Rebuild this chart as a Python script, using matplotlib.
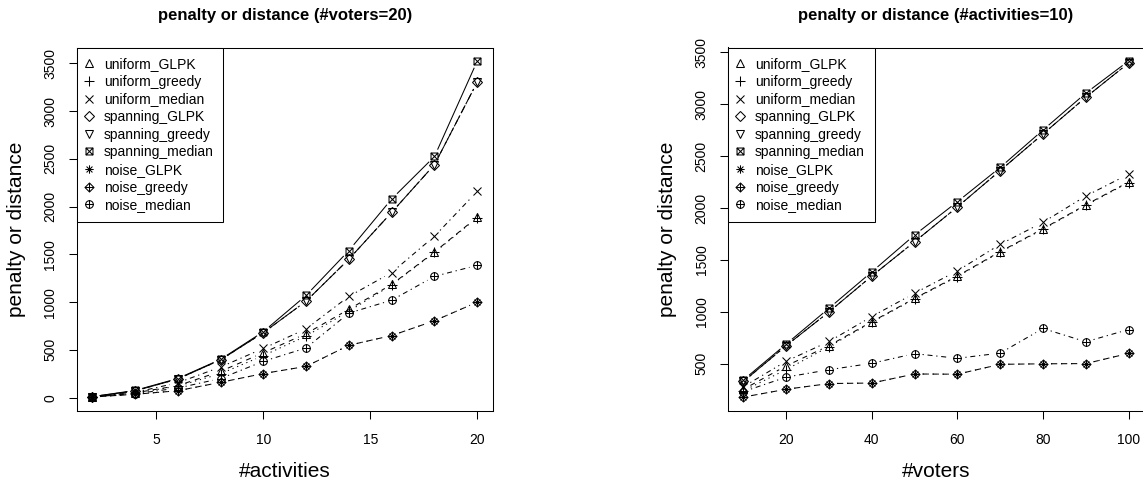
import numpy as np
import matplotlib
matplotlib.use("Agg")
import matplotlib.pyplot as plt
from matplotlib.path import Path
from matplotlib.lines import Line2D

plt.rcParams['font.family'] = ['Liberation Sans', 'DejaVu Sans']
plt.rcParams['lines.scale_dashes'] = False

#Legend order of the series
series_names = ['uniform_GLPK', 'uniform_greedy', 'uniform_median',
                'spanning_GLPK', 'spanning_greedy', 'spanning_median',
                'noise_GLPK', 'noise_greedy', 'noise_median']

#Left panel: #voters=20, varying #activities
activities = [2, 4, 6, 8, 10, 12, 14, 16, 18, 20]
act_uniform_GLPK = [8, 50, 125, 275, 470, 670, 925, 1185, 1525, 1890]
act_uniform_greedy = [8, 48, 120, 250, 440, 645, 905, 1180, 1520, 1885]
act_uniform_median = [8, 55, 155, 320, 515, 720, 1060, 1310, 1690, 2160]
act_spanning_GLPK = [10, 70, 195, 395, 680, 1010, 1450, 1940, 2440, 3305]
act_spanning_greedy = [10, 70, 195, 395, 680, 1010, 1450, 1940, 2440, 3305]
act_spanning_median = [10, 75, 200, 400, 690, 1070, 1540, 2080, 2525, 3525]
act_noise_GLPK = [6, 35, 72, 160, 252, 327, 548, 650, 805, 1000]
act_noise_greedy = [6, 35, 72, 160, 252, 327, 548, 650, 805, 1000]
act_noise_median = [8, 40, 100, 200, 380, 520, 885, 1020, 1270, 1385]

#Right panel: #activities=10, varying #voters
voters = [10, 20, 30, 40, 50, 60, 70, 80, 90, 100]
vot_uniform_GLPK = [255, 480, 675, 905, 1130, 1345, 1580, 1800, 2030, 2250]
vot_uniform_greedy = [240, 445, 665, 900, 1125, 1340, 1575, 1795, 2025, 2245]
vot_uniform_median = [280, 525, 715, 955, 1180, 1395, 1650, 1862, 2115, 2325]
vot_spanning_GLPK = [330, 675, 1000, 1345, 1675, 2010, 2360, 2712, 3065, 3395]
vot_spanning_greedy = [330, 675, 1000, 1345, 1675, 2010, 2360, 2712, 3065, 3395]
vot_spanning_median = [345, 690, 1035, 1385, 1740, 2060, 2390, 2750, 3105, 3415]
vot_noise_GLPK = [180, 255, 310, 315, 402, 400, 495, 500, 502, 600]
vot_noise_greedy = [180, 255, 310, 315, 402, 400, 495, 500, 502, 600]
vot_noise_median = [232, 372, 443, 505, 598, 553, 603, 840, 712, 830]

act_series = [act_uniform_GLPK, act_uniform_greedy, act_uniform_median,
              act_spanning_GLPK, act_spanning_greedy, act_spanning_median,
              act_noise_GLPK, act_noise_greedy, act_noise_median]
vot_series = [vot_uniform_GLPK, vot_uniform_greedy, vot_uniform_median,
              vot_spanning_GLPK, vot_spanning_greedy, vot_spanning_median,
              vot_noise_GLPK, vot_noise_greedy, vot_noise_median]


#R-like point symbols (pch 2..10) built as paths
M, L, C = Path.MOVETO, Path.LINETO, Path.CLOSEPOLY
square_x = Path([(-1, -1), (1, -1), (1, 1), (-1, 1), (-1, -1),
                 (-1, -1), (1, 1), (-1, 1), (1, -1)],
                [M, L, L, L, C, M, L, M, L])
r = 0.7071
asterisk = Path([(0, -1), (0, 1), (-1, 0), (1, 0),
                 (-r, -r), (r, r), (-r, r), (r, -r)],
                [M, L, M, L, M, L, M, L])
diamond_plus = Path([(0, 1), (1, 0), (0, -1), (-1, 0), (0, 1),
                     (0, -1), (0, 1), (-1, 0), (1, 0)],
                    [M, L, L, L, C, M, L, M, L])
plus_lines = Path([(0, -1), (0, 1), (-1, 0), (1, 0)], [M, L, M, L])
circle_plus = Path.make_compound_path(Path.unit_circle(), plus_lines)

#(marker, size in points) per series
markers = [('^', 6.0), ('+', 6.5), ('x', 5.5), ('D', 5.0), ('v', 6.0),
           (square_x, 5.0), (asterisk, 6.0), (diamond_plus, 6.5), (circle_plus, 5.5)]

#R lty 2..10 (recycled): dashed, dotted, dotdash, longdash, twodash, solid, ...
u = 0.9
dashed = (0, (4*u, 4*u))
dotted = (0, (1*u, 3*u))
dotdash = (0, (1*u, 3*u, 4*u, 3*u))
longdash = (0, (7*u, 3*u))
twodash = (0, (2*u, 2*u, 6*u, 2*u))
linestyles = [dashed, dotted, dotdash, longdash, twodash, '-', dashed, dotted, dotdash]

GAP = 8.0  # pixels left free around each point, like type="b" in R


def r_limits(values):
    '''Range extended by 4% on each side (R default)'''
    lo, hi = min(values), max(values)
    d = (hi - lo) * 0.04
    return lo - d, hi + d


def draw_series(ax, x, y, marker, ms, ls):
    '''Points plus connecting segments that stop short of the points'''
    trans = ax.transData
    inv = trans.inverted()
    pts = trans.transform(np.column_stack([x, y]))
    for p0, p1 in zip(pts[:-1], pts[1:]):
        d = p1 - p0
        length = np.hypot(d[0], d[1])
        if length <= 2 * GAP:
            continue
        a = p0 + d / length * GAP
        b = p1 - d / length * GAP
        seg = inv.transform(np.array([a, b]))
        ax.plot(seg[:, 0], seg[:, 1], color='k', lw=0.75, ls=ls)
    ax.plot(x, y, ls='none', marker=marker, ms=ms, mfc='none', mec='k', mew=0.75)


def panel(ax, x, series, title, xlabel, xticks, yticks):
    ax.set_xlim(*r_limits(x))
    ax.set_ylim(*r_limits([v for s in series for v in s]))
    for s, (mk, ms), ls in zip(series, markers, linestyles):
        draw_series(ax, x, s, mk, ms, ls)

    ax.set_xticks(xticks)
    ax.set_yticks(yticks)
    ax.tick_params(direction='out', length=6, width=0.75, labelsize=10, colors='k')
    ax.tick_params(axis='x', pad=10)
    ax.tick_params(axis='y', labelrotation=90, pad=8)
    for lab in ax.get_yticklabels():
        lab.set_va('center')
    for sp in ax.spines.values():
        sp.set_linewidth(0.75)
        sp.set_color('k')

    ax.set_title(title, fontsize=12, fontweight='bold', y=1.088, va='center', pad=0)
    ax.set_xlabel(xlabel, fontsize=15, va='center')
    ax.xaxis.set_label_coords(0.5, -0.168)
    ax.set_ylabel('penalty or distance', fontsize=15, va='center')
    ax.yaxis.set_label_coords(-0.145, 0.5)

    handles = [Line2D([], [], ls='none', marker=mk, ms=ms, mfc='none', mec='k', mew=0.75)
               for mk, ms in markers]
    leg = ax.legend(handles, series_names, loc='upper left', bbox_to_anchor=(0, 1),
                    borderaxespad=0, fancybox=False, framealpha=1, edgecolor='k',
                    fontsize=10, handlelength=0.3, handletextpad=0.95,
                    labelspacing=0.26, borderpad=0.7)
    leg.get_frame().set_linewidth(0.75)


W, H = 1143, 482
fig = plt.figure(figsize=(W / 100, H / 100), dpi=100)
ax1 = fig.add_axes([76.7 / W, (H - 410.5) / H, 416 / W, 363 / H])
ax2 = fig.add_axes([728 / W, (H - 410.5) / H, 416 / W, 363 / H])

panel(ax1, activities, act_series, 'penalty or distance (#voters=20)', '#activities',
      [5, 10, 15, 20], [0, 500, 1000, 1500, 2000, 2500, 3000, 3500])
panel(ax2, voters, vot_series, 'penalty or distance (#activities=10)', '#voters',
      [20, 40, 60, 80, 100], [500, 1000, 1500, 2000, 2500, 3000, 3500])

fig.savefig('out.png', dpi=100)
